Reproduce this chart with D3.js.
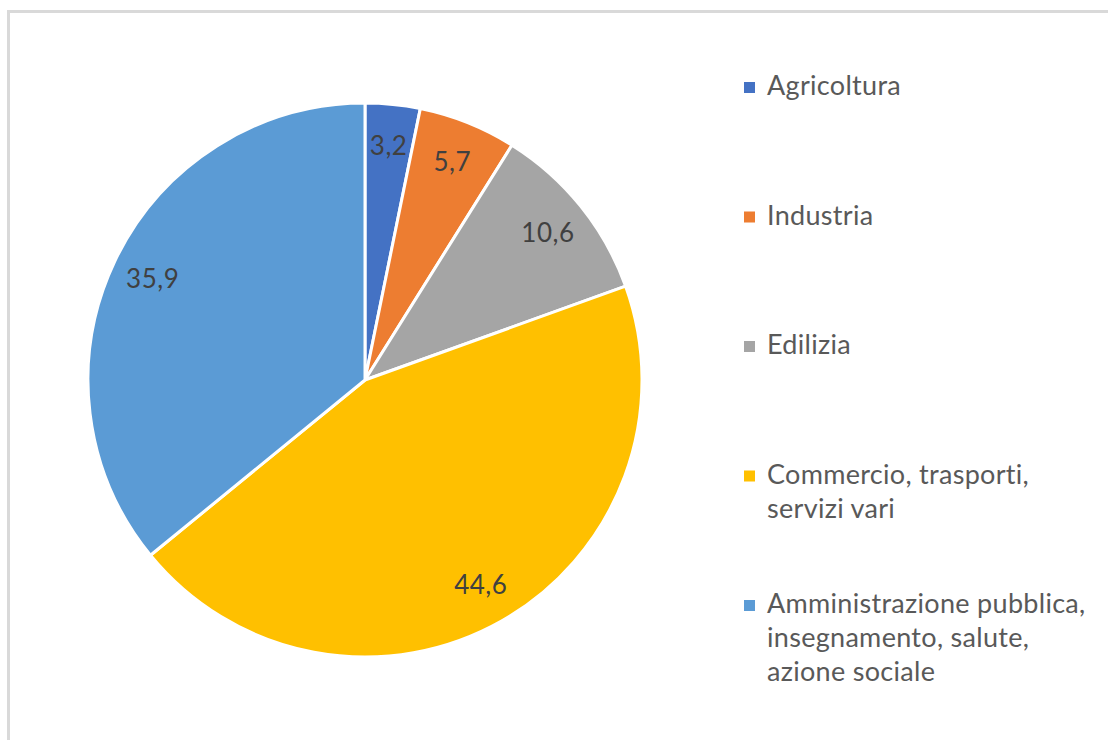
<!DOCTYPE html>
<html>
<head>
<meta charset="utf-8">
<script src="https://cdn.jsdelivr.net/npm/d3@7"></script>
<style>
  html, body { margin: 0; padding: 0; background: #fff; }
  svg { display: block; }
  text { font-variant-ligatures: none; font-feature-settings: "liga" 0; }
</style>
</head>
<body>
<svg id="chart" width="1108" height="740"></svg>
<script>
const categories = ["Agricoltura", "Industria", "Edilizia", "Commercio, trasporti, servizi vari", "Amministrazione pubblica, insegnamento, salute, azione sociale"];
const legendLines = [["Agricoltura"], ["Industria"], ["Edilizia"], ["Commercio, trasporti,", "servizi vari"], ["Amministrazione pubblica,", "insegnamento, salute,", "azione sociale"]];
const values = [3.2, 5.7, 10.6, 44.6, 35.9];
const valueLabels = ["3,2", "5,7", "10,6", "44,6", "35,9"];
const colors = ["#4472C4", "#ED7D31", "#A5A5A5", "#FFC000", "#5B9BD5"];

const svg = d3.select("#chart");
const FONT = "Lato, 'Open Sans', sans-serif";

// frame
svg.append("rect")
  .attr("x", 8.5).attr("y", 11.5)
  .attr("width", 1120).attr("height", 760)
  .attr("fill", "none")
  .attr("stroke", "#d9d9d9")
  .attr("stroke-width", 3);

const cx = 365, cy = 380, R = 277, labelR = 235;

const data = categories.map((c, i) => ({ cat: c, value: values[i], label: valueLabels[i], color: colors[i], lines: legendLines[i] }));

const pie = d3.pie().value(d => d.value).sort(null);
const arcs = pie(data);
const arc = d3.arc().innerRadius(0).outerRadius(R);
const labelArc = d3.arc().innerRadius(labelR).outerRadius(labelR);

const g = svg.append("g").attr("transform", `translate(${cx},${cy})`);

g.selectAll("path.slice")
  .data(arcs)
  .enter().append("path")
  .attr("class", "slice")
  .attr("d", arc)
  .attr("fill", d => d.data.color)
  .attr("stroke", "#ffffff")
  .attr("stroke-width", 3)
  .attr("stroke-linejoin", "round");

g.selectAll("text.lbl")
  .data(arcs)
  .enter().append("text")
  .attr("class", "lbl")
  .attr("transform", d => `translate(${labelArc.centroid(d)})`)
  .attr("text-anchor", "middle")
  .attr("dy", "0.35em")
  .attr("font-family", FONT)
  .attr("font-size", 26)
  .attr("letter-spacing", 0.5)
  .attr("fill", "#404040")
  .text(d => d.data.label);

// legend
const legendX = 744;
const firstBaseline = 95;
const itemStep = 129.5;
const lineH = 34;

const leg = svg.append("g");
const items = leg.selectAll("g.item")
  .data(data)
  .enter().append("g")
  .attr("class", "item")
  .attr("transform", (d, i) => `translate(${legendX},${firstBaseline + i * itemStep})`);

items.append("rect")
  .attr("x", 0).attr("y", -13)
  .attr("width", 11).attr("height", 11)
  .attr("fill", d => d.color);

items.each(function(d) {
  const t = d3.select(this).append("text")
    .attr("x", 23).attr("y", 0)
    .attr("font-family", FONT)
    .attr("font-size", 27)
    .attr("letter-spacing", 0.3)
    .attr("fill", "#595959");
  d.lines.forEach((ln, j) => {
    t.append("tspan").attr("x", 23).attr("y", j * lineH).text(ln);
  });
});
</script>
</body>
</html>
